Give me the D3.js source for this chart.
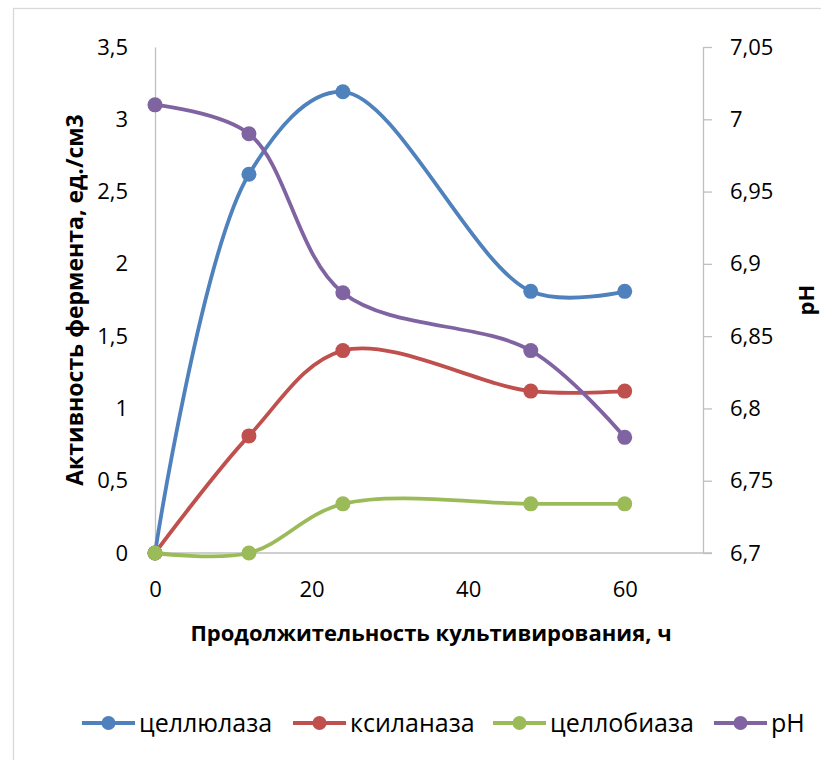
<!DOCTYPE html>
<html>
<head>
<meta charset="utf-8">
<style>
body { margin: 0; background: #fff; }
text { font-family: "Open Sans", Lato, sans-serif; fill: #000; }
.tick text { font-size: 22px; }
.axis path, .axis line { stroke: #bfbfbf; stroke-width: 1.3; }
.title { font-size: 22px; font-weight: bold; }
</style>
<script src="https://cdn.jsdelivr.net/npm/d3@7"></script>
</head>
<body>
<svg width="821" height="760"></svg>
<script>
var hours = [0, 12, 24, 48, 60];
var cellulase = [0, 2.62, 3.19, 1.81, 1.81];
var xylanase = [0, 0.81, 1.40, 1.12, 1.12];
var cellobiase = [0, 0, 0.34, 0.34, 0.34];
var ph = [7.01, 6.99, 6.88, 6.84, 6.78];
var leftTicks = [0, 0.5, 1, 1.5, 2, 2.5, 3, 3.5];
var rightTicks = [6.7, 6.75, 6.8, 6.85, 6.9, 6.95, 7, 7.05];
var xTicks = [0, 20, 40, 60];

var series = [
  {name: "целлюлаза", values: cellulase, color: "#4f81bd", axis: "left"},
  {name: "ксиланаза", values: xylanase, color: "#c0504d", axis: "left"},
  {name: "целлобиаза", values: cellobiase, color: "#9bbb59", axis: "left"},
  {name: "pH", values: ph, color: "#8064a2", axis: "right"}
];

var svg = d3.select("svg"),
    margin = {top: 47, right: 118, bottom: 207, left: 155},
    width = 821 - margin.left - margin.right,
    height = 760 - margin.top - margin.bottom;

// outer chart border
svg.append("rect")
    .attr("x", 13.5).attr("y", 8.5)
    .attr("width", 830).attr("height", 800)
    .attr("fill", "none")
    .attr("stroke", "#d9d9d9")
    .attr("stroke-width", 1.3);

var x = d3.scaleLinear().domain([0, 70]).range([0, width]),
    yL = d3.scaleLinear().domain([0, 3.5]).range([height, 0]),
    yR = d3.scaleLinear().domain([6.7, 7.05]).range([height, 0]);

var fmt = function(d) { return d3.format("~r")(+d.toFixed(2)).replace(".", ","); };

var g = svg.append("g")
    .attr("transform", "translate(" + margin.left + "," + margin.top + ")");

g.append("g")
    .attr("class", "axis")
    .attr("transform", "translate(0," + height + ")")
    .call(d3.axisBottom(x).tickValues(xTicks).tickSize(0).tickPadding(28).tickFormat(fmt))
    .call(function(s) { s.select(".domain").attr("d", "M0,0H" + (width + 9)); });

g.append("g")
    .attr("class", "axis")
    .call(d3.axisLeft(yL).tickValues(leftTicks).tickSize(0).tickPadding(27).tickFormat(fmt));

g.append("g")
    .attr("class", "axis")
    .attr("transform", "translate(" + width + ",0)")
    .call(d3.axisRight(yR).tickValues(rightTicks).tickSize(9).tickSizeOuter(0).tickPadding(18).tickFormat(fmt));

g.selectAll(".axis text").attr("font-family", null).attr("font-size", null);

var line = function(s) {
  var yy = s.axis === "left" ? yL : yR;
  return d3.line()
      .x(function(d, i) { return x(hours[i]); })
      .y(function(d) { return yy(d); })
      .curve(d3.curveCatmullRom.alpha(0.5))(s.values);
};

series.forEach(function(s) {
  var yy = s.axis === "left" ? yL : yR;
  var sg = g.append("g");
  sg.append("path")
      .attr("d", line(s))
      .attr("fill", "none")
      .attr("stroke", s.color)
      .attr("stroke-width", 3.8)
      .attr("stroke-linecap", "round");
  sg.selectAll("circle")
    .data(s.values)
    .enter().append("circle")
      .attr("cx", function(d, i) { return x(hours[i]); })
      .attr("cy", function(d) { return yy(d); })
      .attr("r", 7.5)
      .attr("fill", s.color);
});

// axis titles
svg.append("text")
    .attr("class", "title")
    .attr("transform", "translate(83," + (margin.top + height / 2) + ") rotate(-90)")
    .attr("text-anchor", "middle")
    .style("font-size", "23px")
    .text("Активность фермента, ед./см3");

svg.append("text")
    .attr("class", "title")
    .attr("transform", "translate(814," + (margin.top + height / 2) + ") rotate(-90)")
    .attr("text-anchor", "middle")
    .text("pH");

svg.append("text")
    .attr("class", "title")
    .attr("x", 431).attr("y", 641)
    .attr("text-anchor", "middle")
    .text("Продолжительность культивирования, ч");

// legend
var legendX = [82, 293, 493, 714];
var lg = svg.append("g").attr("transform", "translate(0,723)");
series.forEach(function(s, i) {
  var lx = legendX[i];
  lg.append("line")
      .attr("x1", lx).attr("x2", lx + 53)
      .attr("y1", 0).attr("y2", 0)
      .attr("stroke", s.color).attr("stroke-width", 3.8);
  lg.append("circle")
      .attr("cx", lx + 26.5).attr("cy", 0).attr("r", 7)
      .attr("fill", s.color);
  lg.append("text")
      .attr("x", lx + 57).attr("y", 0)
      .attr("dy", "0.36em")
      .style("font-size", "25px")
      .text(s.name);
});
</script>
</body>
</html>
